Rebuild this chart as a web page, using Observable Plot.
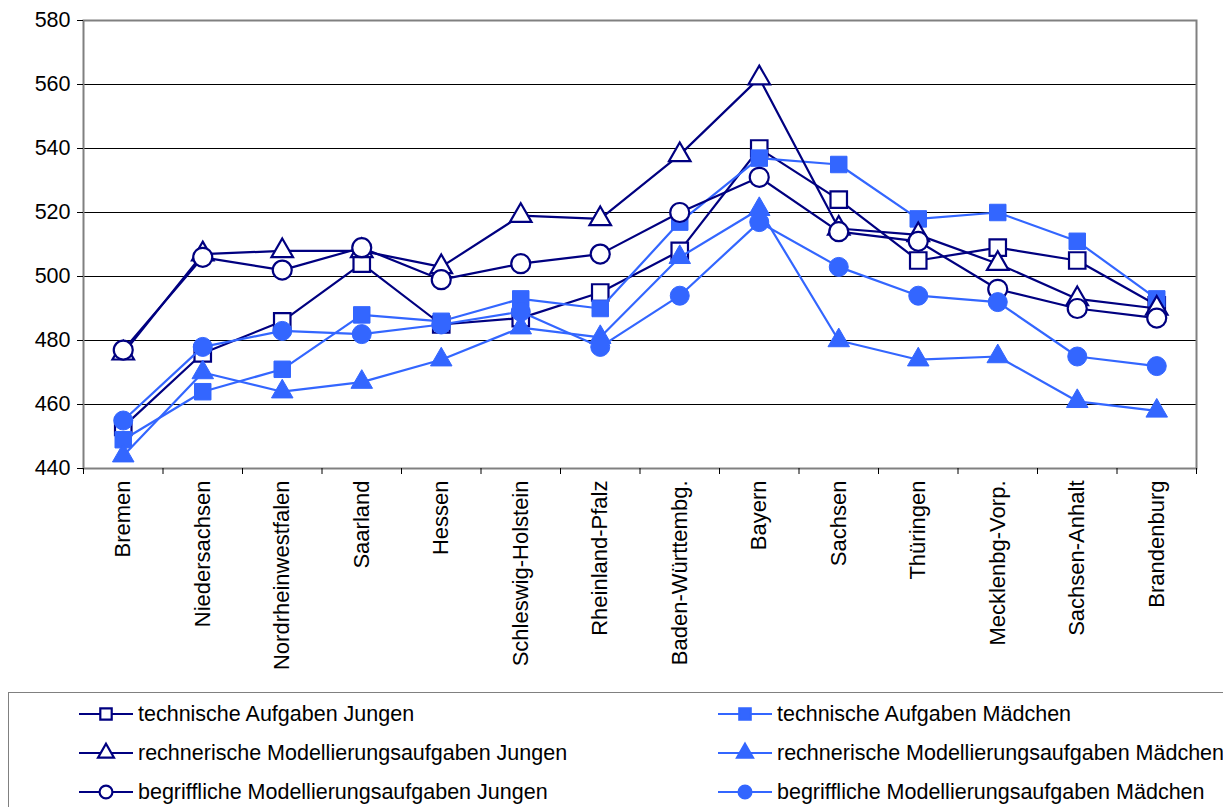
<!DOCTYPE html>
<html>
<head>
<meta charset="utf-8">
<script src="https://cdn.jsdelivr.net/npm/d3@7"></script>
<script src="https://cdn.jsdelivr.net/npm/@observablehq/plot@0.6"></script>
<style>
  html, body { margin: 0; padding: 0; background: #fff; overflow: hidden; }
  body { font-family: "Liberation Sans", Arial, sans-serif; }
  #wrap { position: relative; width: 1223px; height: 807px; }
  #legend {
    position: absolute; left: 8px; top: 692px; width: 1240px; height: 140px;
    border: 1.5px solid #808080; box-sizing: border-box;
  }
  .item { position: absolute; display: flex; align-items: center; height: 24px;
    font-size: 21.5px; color: #000; white-space: nowrap; }
  .item svg { margin-right: 5px; }
</style>
</head>
<body>
<div id="wrap">
  <div id="chart"></div>
  <div id="legend"></div>
</div>
<script>
// Bundesländer in der Reihenfolge der Rubrikenachse
const laender = [
  "Bremen", "Niedersachsen", "Nordrheinwestfalen", "Saarland", "Hessen",
  "Schleswig-Holstein", "Rheinland-Pfalz", "Baden-Württembg.", "Bayern",
  "Sachsen", "Thüringen", "Mecklenbg-Vorp.", "Sachsen-Anhalt", "Brandenburg"
];

// Mittelwerte je Aufgabentyp und Geschlecht
const technischJungen   = [453, 476, 486, 504, 485, 487, 495, 508, 540, 524, 505, 509, 505, 491];
const technischMaedchen = [449, 464, 471, 488, 486, 493, 490, 517, 537, 535, 518, 520, 511, 493];
const rechnerischJungen   = [476, 507, 508, 508, 503, 519, 518, 538, 562, 515, 513, 504, 493, 490];
const rechnerischMaedchen = [444, 470, 464, 467, 474, 484, 481, 506, 521, 480, 474, 475, 461, 458];
const begrifflichJungen   = [477, 506, 502, 509, 499, 504, 507, 520, 531, 514, 511, 496, 490, 487];
const begrifflichMaedchen = [455, 478, 483, 482, 485, 489, 478, 494, 517, 503, 494, 492, 475, 472];

const yTicks = [440, 460, 480, 500, 520, 540, 560, 580];

const dunkel = "#000080";
const hell = "#3366ff";

// Reihenfolge wie in der Legende (zeilenweise), zugleich Zeichenreihenfolge
const reihen = [
  {name: "technische Aufgaben Jungen", werte: technischJungen, symbol: "square", farbe: dunkel, offen: true},
  {name: "technische Aufgaben Mädchen", werte: technischMaedchen, symbol: "square", farbe: hell, offen: false},
  {name: "rechnerische Modellierungsaufgaben Jungen", werte: rechnerischJungen, symbol: "triangle", farbe: dunkel, offen: true},
  {name: "rechnerische Modellierungsaufgaben Mädchen", werte: rechnerischMaedchen, symbol: "triangle", farbe: hell, offen: false},
  {name: "begriffliche Modellierungsaufgaben Jungen", werte: begrifflichJungen, symbol: "circle", farbe: dunkel, offen: true},
  {name: "begriffliche Modellierungsaufgaben Mädchen", werte: begrifflichMaedchen, symbol: "circle", farbe: hell, offen: false}
];

const radius = {square: 9.3, triangle: 8, circle: 9.5};

const serienMarks = reihen.flatMap(s => {
  const rows = laender.map((land, i) => ({land, i, wert: s.werte[i]}));
  return [
    Plot.line(rows, {x: d => d.i + 0.5, y: "wert", stroke: s.farbe, strokeWidth: 2.2}),
    Plot.dot(rows, {
      x: d => d.i + 0.5, y: "wert", symbol: s.symbol, r: radius[s.symbol],
      fill: s.offen ? "#fff" : s.farbe, stroke: s.farbe, strokeWidth: s.offen ? 2.2 : 1
    })
  ];
});

const chart = Plot.plot({
  width: 1223,
  height: 692,
  marginLeft: 83,
  marginRight: 27,
  marginTop: 20,
  marginBottom: 224,
  style: {fontFamily: "'Liberation Sans', Arial, sans-serif", fontSize: "21px", color: "#000", background: "#fff"},
  x: {type: "linear", domain: [0, laender.length]},
  y: {domain: [440, 580]},
  marks: [
    Plot.gridY(yTicks.slice(1, -1), {stroke: "#000", strokeOpacity: 1, strokeWidth: 1}),
    Plot.frame({stroke: "#808080", strokeWidth: 2}),
    Plot.axisY(yTicks, {tickSize: 6, tickPadding: 7, fontSize: 21.5, label: null, stroke: "#000"}),
    Plot.axisX(d3.range(0, laender.length + 1), {tickSize: 6, tickFormat: () => "", label: null, stroke: "#000"}),
    Plot.axisX(d3.range(laender.length).map(i => i + 0.5), {
      tickSize: 0, tickPadding: 12, tickRotate: -90, fontSize: 22, label: null,
      tickFormat: v => laender[Math.floor(v)]
    }),
    ...serienMarks
  ]
});
document.getElementById("chart").appendChild(chart);

// Legende: zwei Spalten, drei Zeilen
const legend = document.getElementById("legend");
const spalten = [70, 709];
const zeilen = [9, 48, 87];
reihen.forEach((s, k) => {
  const col = k % 2, row = Math.floor(k / 2);
  const item = document.createElement("div");
  item.className = "item";
  item.style.left = spalten[col] + "px";
  item.style.top = zeilen[row] + "px";
  const svg = d3.create("svg").attr("width", 54).attr("height", 24);
  svg.append("line").attr("x1", 0).attr("x2", 54).attr("y1", 12).attr("y2", 12)
    .attr("stroke", s.farbe).attr("stroke-width", 2.2);
  const sym = {square: d3.symbolSquare, triangle: d3.symbolTriangle, circle: d3.symbolCircle}[s.symbol];
  const size = s.symbol === "triangle" ? 110 : 130;
  svg.append("path").attr("d", d3.symbol(sym, size)())
    .attr("transform", "translate(27,12)")
    .attr("fill", s.offen ? "#fff" : s.farbe).attr("stroke", s.farbe).attr("stroke-width", 2.2);
  item.appendChild(svg.node());
  const span = document.createElement("span");
  span.textContent = s.name;
  item.appendChild(span);
  legend.appendChild(item);
});
</script>
</body>
</html>
